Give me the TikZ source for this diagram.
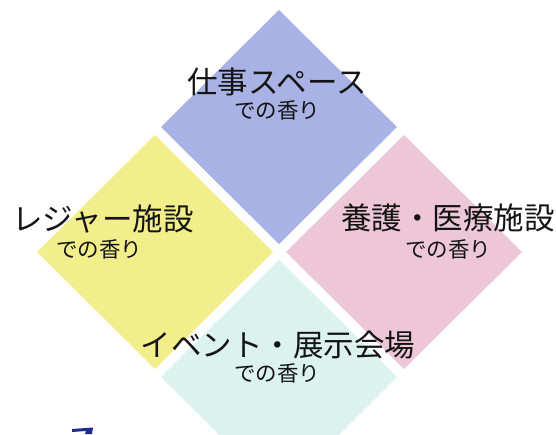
\documentclass[tikz,border=0pt]{standalone}
\usepackage{fontspec}
\newfontfamily\jp{Noto Sans CJK JP}
\definecolor{cblue}{HTML}{A8B2E4}
\definecolor{cyellow}{HTML}{F2EE8C}
\definecolor{cpink}{HTML}{EDC7D6}
\definecolor{ccyan}{HTML}{DCF2EF}
\definecolor{ctext}{HTML}{141414}
\definecolor{cnavy}{HTML}{1E2A8C}
\begin{document}
\begin{tikzpicture}[x=1pt,y=-1pt,
  title/.style={font=\jp\fontsize{30.5}{31}\selectfont, text=ctext, inner sep=0pt, anchor=center},
  sub/.style={font=\jp\fontsize{21.5}{22}\selectfont, text=ctext, inner sep=0pt, anchor=center}]
\useasboundingbox (0,0) rectangle (556,434);
\fill[white] (0,0) rectangle (556,434);
\begin{scope}
\clip (0,0) rectangle (556,434);
% diamonds: center, half width 118, half height 117
\fill[cblue]   (279,10)  -- (397,127) -- (279,244) -- (161,127) -- cycle;
\fill[cyellow] (155,135) -- (273,252) -- (155,369) -- (37,252)  -- cycle;
\fill[cpink]   (404,135) -- (522,252) -- (404,369) -- (286,252) -- cycle;
\fill[ccyan]   (279,260) -- (397,377) -- (279,494) -- (161,377) -- cycle;
% fragment at bottom left
\fill[cnavy] (72,429) -- (93,427.5) -- (92,434) -- (85,434) -- (86,431) -- (72,432) -- cycle;
\end{scope}
\node[title] (t1) at (277,82) {仕事スペース};
\node[sub]   (s1) at (277,110) {での香り};
\node[title] (t2) at (103,219) {レジャー施設};
\node[sub]   (s2) at (99,249) {での香り};
\node[title] (t3) at (448,218) {養護・医療施設};
\node[sub]   (s3) at (448,249) {での香り};
\node[title] (t4) at (278,345) {イベント・展示会場};
\node[sub]   (s4) at (277,373) {での香り};
\end{tikzpicture}
\end{document}
